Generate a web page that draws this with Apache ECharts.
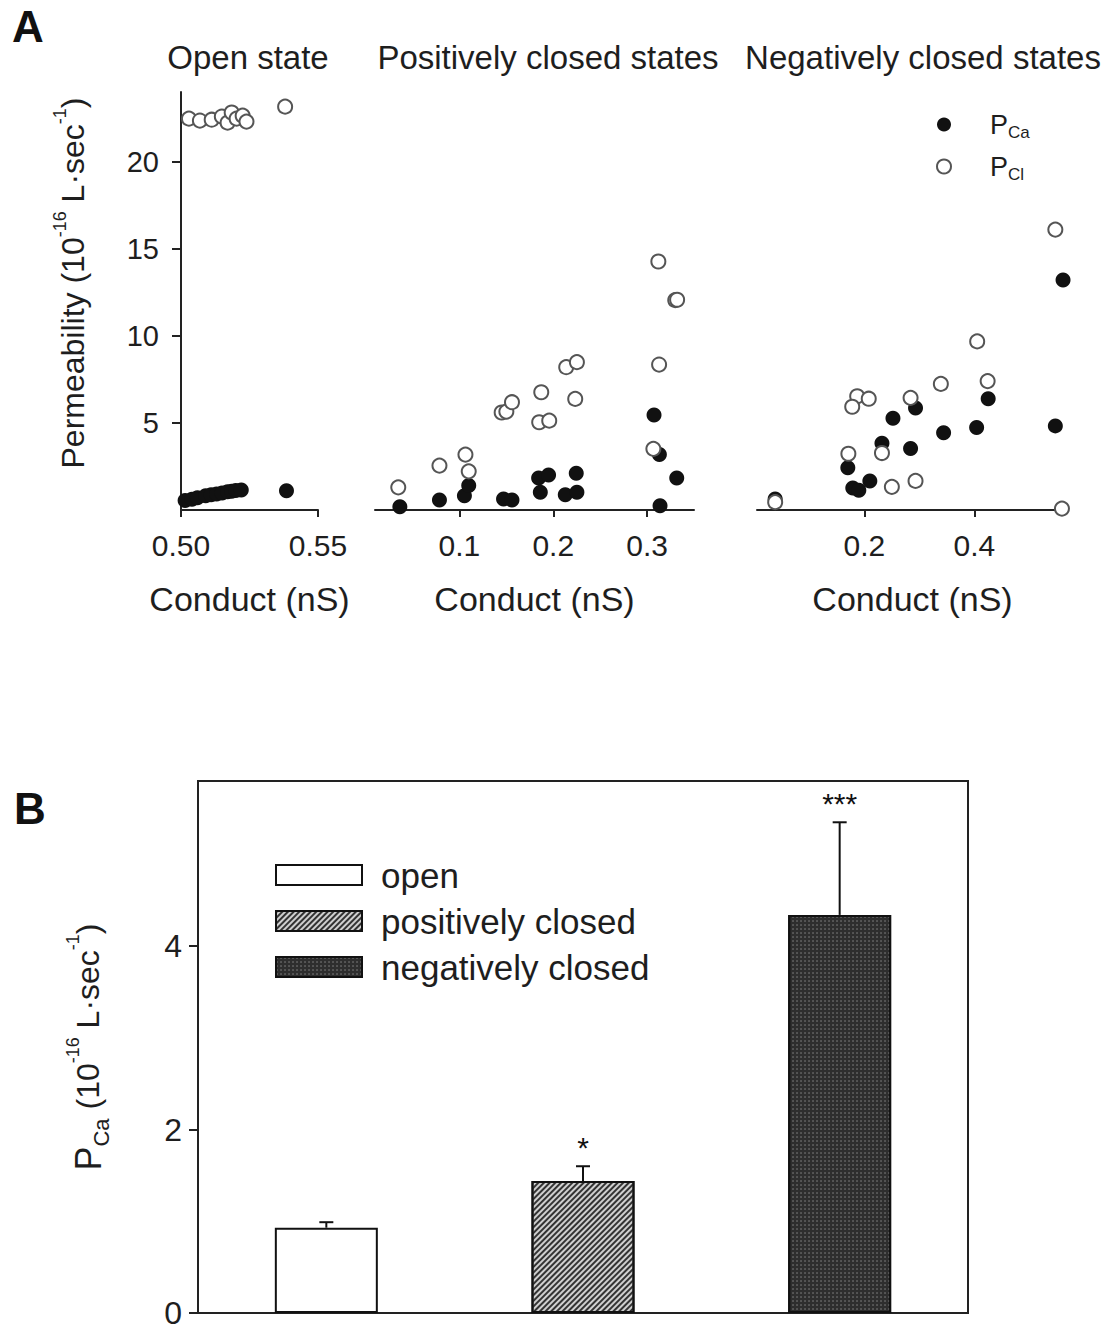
<!DOCTYPE html>
<html><head><meta charset="utf-8">
<script src="https://cdn.jsdelivr.net/npm/echarts@6/dist/echarts.min.js"></script>
<style>html,body{margin:0;padding:0;background:#fff}#c{width:1116px;height:1332px}</style>
</head><body><div id="c"></div>
<script>
// ---------- Panel A data: [conductance (nS), permeability (1e-16 L/s)] ----------
const openPCa = [[0.5015,0.55],[0.5040,0.62],[0.5060,0.70],[0.5090,0.82],[0.5110,0.88],[0.5130,0.92],[0.5150,0.98],[0.5170,1.05],[0.5185,1.08],[0.5200,1.12],[0.5220,1.15],[0.5385,1.10]];
const openPCl = [[0.5029,22.47],[0.5069,22.36],[0.5112,22.41],[0.5149,22.59],[0.5170,22.24],[0.5185,22.82],[0.5203,22.47],[0.5225,22.64],[0.5239,22.30],[0.5380,23.16]];
const posPCa = [[0.0365,0.19],[0.0787,0.57],[0.1053,0.82],[0.1099,1.40],[0.1470,0.63],[0.1560,0.57],[0.1844,1.84],[0.1950,2.01],[0.1862,1.02],[0.2128,0.88],[0.2245,2.11],[0.2252,1.02],[0.3074,5.46],[0.3131,3.18],[0.3316,1.84],[0.3138,0.25]];
const posPCl = [[0.0348,1.30],[0.0787,2.55],[0.1064,3.18],[0.1099,2.22],[0.1450,5.60],[0.1500,5.65],[0.1560,6.19],[0.1872,6.76],[0.1850,5.04],[0.1957,5.13],[0.2138,8.20],[0.2252,8.49],[0.2234,6.38],[0.3120,14.27],[0.3300,12.05],[0.3320,12.07],[0.3128,8.35],[0.3067,3.51]];
const negPCa = [[0.038,0.63],[0.561,13.2],[0.547,4.83],[0.425,6.39],[0.404,4.73],[0.344,4.43],[0.293,5.86],[0.252,5.27],[0.232,3.83],[0.284,3.53],[0.170,2.43],[0.179,1.26],[0.190,1.13],[0.210,1.67]];
const negPCl = [[0.038,0.45],[0.547,16.1],[0.405,9.68],[0.339,7.24],[0.424,7.40],[0.187,6.53],[0.208,6.39],[0.178,5.93],[0.284,6.44],[0.171,3.23],[0.232,3.27],[0.250,1.33],[0.293,1.67],[0.559,0.08]];
const openTicksX = [0.50, 0.55];
const posTicksX = [0.1, 0.2, 0.3];
const negTicksX = [0.2, 0.4];
const permTicksY = [5, 10, 15, 20];

// ---------- Panel B data ----------
const categories = ['open', 'positively closed', 'negatively closed'];
const meanPCa = [0.93, 1.44, 4.34];
const semPCa = [0.06, 0.16, 1.01];
const stars = ['', '*', '***'];
const barTicksY = [0, 2, 4];

const FONT = "'Liberation Sans', Arial, sans-serif";
const TXT = '#1e1e1e';

const chart = echarts.init(document.getElementById('c'), null, {renderer: 'svg'});

function xValueAxis(grid, min, max, ticks, fmt) {
  return {
    type: 'value', gridIndex: grid, min: min, max: max,
    axisLine: {show: true, onZero: false, lineStyle: {color: '#222', width: 2}},
    axisTick: {show: true, customValues: ticks, length: 7, lineStyle: {color: '#222', width: 2}},
    axisLabel: {customValues: ticks, formatter: fmt, fontSize: 30, color: TXT, fontFamily: FONT, margin: 20},
    splitLine: {show: false},
    name: 'Conduct (nS)', nameLocation: 'middle', nameGap: 72,
    nameTextStyle: {fontSize: 34, color: TXT, fontFamily: FONT}
  };
}

const supRich = {
  t: {fontSize: 32, color: TXT, fontFamily: FONT, lineHeight: 44},
  sup: {fontSize: 18, color: TXT, fontFamily: FONT, lineHeight: 18, verticalAlign: 'top'},
  sub: {fontSize: 22, color: TXT, fontFamily: FONT, lineHeight: 22, verticalAlign: 'bottom'},
  big: {fontSize: 36, color: TXT, fontFamily: FONT, lineHeight: 48}
};

const hiddenY = g => ({type: 'value', gridIndex: g, min: 0, max: 24, show: false, splitLine: {show: false}});

const scatterFilled = (name, g, data) => ({
  name: name, type: 'scatter', xAxisIndex: g, yAxisIndex: g, data: data, clip: false,
  symbol: 'circle', symbolSize: 15, z: 2,
  itemStyle: {color: '#111', borderColor: '#111', borderWidth: 0, opacity: 1}
});
const scatterOpen = (name, g, data) => ({
  name: name, type: 'scatter', xAxisIndex: g, yAxisIndex: g, data: data, clip: false,
  symbol: 'circle', symbolSize: 14, z: 3,
  itemStyle: {color: '#fff', borderColor: '#555', borderWidth: 2, opacity: 1}
});

const barColors = [
  {color: '#ffffff'},
  {color: '#cfcfcf', decal: {symbol: 'rect', symbolSize: 1, color: '#333333', dashArrayX: [1, 0], dashArrayY: [2, 2], rotation: -Math.PI / 4}},
  {color: '#2e2e2e', decal: {symbol: 'circle', symbolSize: 0.7, color: '#8a8a8a', dashArrayX: [2, 2], dashArrayY: [2, 2], rotation: 0}}
];

const barSeries = categories.map((c, i) => ({
  name: c, type: 'bar', xAxisIndex: 3, yAxisIndex: 3,
  barWidth: 103, barGap: '-100%',
  data: categories.map((_, j) => (j === i ? meanPCa[i] : '-')),
  itemStyle: Object.assign({borderColor: '#111', borderWidth: 2}, barColors[i]),
  z: 2
}));

const option = {
  backgroundColor: '#fff',
  animation: false,
  textStyle: {fontFamily: FONT},
  grid: [
    {left: 181, top: 92, width: 137, height: 418},
    {left: 375, top: 92, width: 319, height: 418},
    {left: 757, top: 92, width: 311, height: 418},
    {left: 198, top: 781, width: 770, height: 532, show: true, borderColor: '#222', borderWidth: 2, backgroundColor: 'transparent'}
  ],
  xAxis: [
    xValueAxis(0, 0.5, 0.55, openTicksX, v => v.toFixed(2)),
    xValueAxis(1, 0.01, 0.35, posTicksX, v => String(+v.toFixed(2))),
    xValueAxis(2, 0.005, 0.57, negTicksX, v => String(+v.toFixed(2))),
    {type: 'category', gridIndex: 3, data: categories,
      axisLine: {show: true, lineStyle: {color: '#222', width: 2}},
      axisTick: {show: false}, axisLabel: {show: false}, splitLine: {show: false}}
  ],
  yAxis: [
    {type: 'value', gridIndex: 0, min: 0, max: 24,
      axisLine: {show: true, onZero: false, lineStyle: {color: '#222', width: 2}},
      axisTick: {show: true, customValues: permTicksY, length: 9, lineStyle: {color: '#222', width: 2}},
      axisLabel: {customValues: permTicksY, fontSize: 29, color: TXT, fontFamily: FONT, margin: 22},
      splitLine: {show: false},
      name: '{t|Permeability (10}{sup|-16}{t| L·sec}{sup|-1}{t|)}',
      nameLocation: 'middle', nameRotate: 90, nameGap: 86,
      nameTextStyle: {rich: supRich, padding: [0, 0, 0, 36]}
    },
    hiddenY(1), hiddenY(2),
    {type: 'value', gridIndex: 3, min: 0, max: 5.8,
      axisLine: {show: true, onZero: false, lineStyle: {color: '#222', width: 2}},
      axisTick: {show: true, customValues: barTicksY, length: 9, lineStyle: {color: '#222', width: 2}},
      axisLabel: {customValues: barTicksY, fontSize: 32, lineHeight: 24, color: TXT, fontFamily: FONT, margin: 16},
      splitLine: {show: false},
      name: '{big|P}{sub|Ca}{t| (10}{sup|-16}{t| L·sec}{sup|-1}{t|)}',
      nameLocation: 'middle', nameRotate: 90, nameGap: 86,
      nameTextStyle: {rich: supRich}
    }
  ],
  legend: [
    {data: ['PCa', 'PCl'], orient: 'vertical', left: 931, top: 106, itemWidth: 14, itemHeight: 14, itemGap: 12,
      icon: 'circle', selectedMode: false,
      formatter: n => '{p|P}{s|' + n.slice(1) + '}',
      textStyle: {padding: [0, 0, 0, 34], rich: {
        p: {fontSize: 27, color: TXT, fontFamily: FONT, lineHeight: 33},
        s: {fontSize: 17, color: TXT, fontFamily: FONT, lineHeight: 17, verticalAlign: 'bottom'}}}
    },
    {data: categories, orient: 'vertical', left: 270, top: 852, itemWidth: 86, itemHeight: 20, itemGap: 10,
      icon: 'rect', selectedMode: false,
      textStyle: {fontSize: 35, color: TXT, fontFamily: FONT, lineHeight: 36, padding: [0, 0, 0, 14]}
    }
  ],
  graphic: [
    {type: 'text', x: 12, y: 4, style: {text: 'A', fontSize: 44, fontWeight: 'bold', fontFamily: FONT, fill: '#111'}},
    {type: 'text', x: 14, y: 786, style: {text: 'B', fontSize: 44, fontWeight: 'bold', fontFamily: FONT, fill: '#111'}},
    {type: 'text', x: 248, y: 57, style: {text: 'Open state', fontSize: 33, fontFamily: FONT, fill: TXT, align: 'center', verticalAlign: 'middle', textAlign: 'center', textVerticalAlign: 'middle'}},
    {type: 'text', x: 548, y: 57, style: {text: 'Positively closed states', fontSize: 33, fontFamily: FONT, fill: TXT, align: 'center', verticalAlign: 'middle', textAlign: 'center', textVerticalAlign: 'middle'}},
    {type: 'text', x: 923, y: 57, style: {text: 'Negatively closed states', fontSize: 33, fontFamily: FONT, fill: TXT, align: 'center', verticalAlign: 'middle', textAlign: 'center', textVerticalAlign: 'middle'}}
  ],
  series: [
    scatterFilled('PCa', 0, openPCa), scatterOpen('PCl', 0, openPCl),
    scatterFilled('PCa', 1, posPCa), scatterOpen('PCl', 1, posPCl),
    scatterFilled('PCa', 2, negPCa), scatterOpen('PCl', 2, negPCl),
    ...barSeries,
    {type: 'custom', xAxisIndex: 3, yAxisIndex: 3, z: 5,
      data: categories.map((c, i) => [i, meanPCa[i], meanPCa[i] + semPCa[i]]),
      renderItem: function (params, api) {
        const p0 = api.coord([api.value(0), api.value(1)]);
        const p1 = api.coord([api.value(0), api.value(2)]);
        const x = p0[0];
        return {type: 'group', children: [
          {type: 'line', shape: {x1: x, y1: p0[1], x2: x, y2: p1[1]}, style: {stroke: '#111', lineWidth: 2}},
          {type: 'line', shape: {x1: x - 7, y1: p1[1], x2: x + 7, y2: p1[1]}, style: {stroke: '#111', lineWidth: 2}},
          {type: 'text', x: x, y: p1[1] - 4, style: {text: stars[params.dataIndex], fontSize: 30, fontFamily: FONT, fill: '#111', align: 'center', verticalAlign: 'bottom'}}
        ]};
      }
    }
  ]
};
chart.setOption(option);
</script>
</body></html>
